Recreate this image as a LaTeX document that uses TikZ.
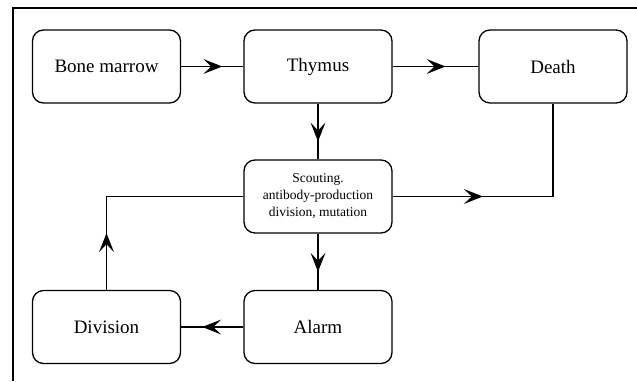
\documentclass[tikz,border=0pt]{standalone}
\usepackage{fontspec}
\setmainfont{Liberation Serif}
\usetikzlibrary{decorations.markings}
\begin{document}
\begin{tikzpicture}[x=1pt,y=-1pt,
  stage/.style={draw, line width=1.3pt, rounded corners=11pt, minimum width=148pt,
    minimum height=73pt, inner sep=0pt, font=\fontsize{19}{22}\selectfont, align=center},
  smallstage/.style={stage, font=\fontsize{13.5}{17}\selectfont},
  link/.style={line width=1.2pt},
  midarrow/.style={postaction={decorate}, decoration={markings,
    mark=at position 0.5 with {\fill (-9pt,-7.5pt) -- (10pt,0pt) -- (-9pt,7.5pt) -- (-1pt,0pt) -- cycle;}}}
]
\useasboundingbox (0,0) rectangle (637,381);
% outer frame (top and left edges)
\draw[line width=1.3pt] (13,381) -- (13,8) -- (637,8);

% stages
\node[stage] (bone)   at (106.5,66.5) {Bone marrow};
\node[stage] (thymus) at (318,66.5)   {Thymus};
\node[stage] (death)  at (553,66.5)   {Death};
\node[smallstage] (scout) at (318,196.5) {Scouting.\\antibody-production\\division, mutation};
\node[stage] (div)    at (106.5,327)  {Division};
\node[stage] (alarm)  at (318,327)    {Alarm};

% connectors
\coordinate (cr) at (death.south |- scout.east);
\coordinate (cl) at (div.north |- scout.west);
\draw[link,midarrow] (bone) -- (thymus);
\draw[link,midarrow] (thymus) -- (death);
\draw[link,midarrow] (thymus) -- (scout);
\draw[link,midarrow] (scout) -- (alarm);
\draw[link,midarrow] (alarm) -- (div);
\draw[link] (scout.east) -- (cr) -- (death.south);
\path[midarrow] (scout.east) -- (cr);
\draw[link] (div.north) -- (cl) -- (scout.west);
\path[midarrow] (div.north) -- (cl);
\end{tikzpicture}
\end{document}
